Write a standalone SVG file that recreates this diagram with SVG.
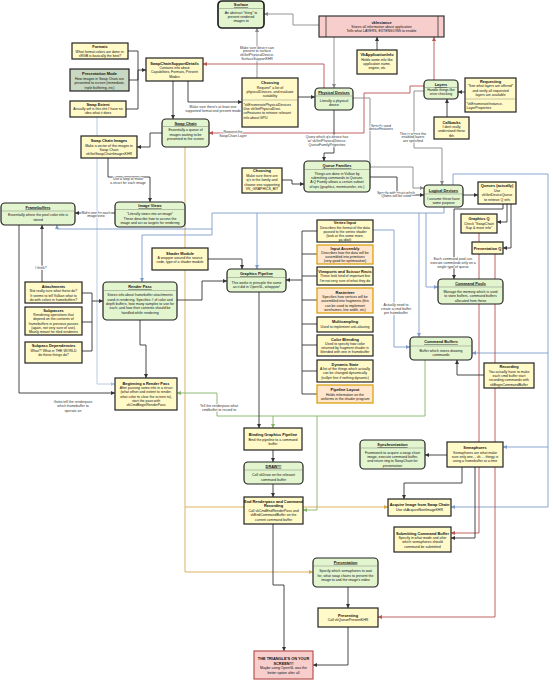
<svg xmlns="http://www.w3.org/2000/svg" width="553" height="680" viewBox="0 0 553 680">
<style>
text{font-family:"Liberation Sans",Arial,sans-serif;fill:#111;text-anchor:middle}
.t{font-size:3.9px;font-weight:bold}
.u{text-decoration:underline}
.b{font-size:3.5px}
.la{text-anchor:start}
.lb{font-size:3.5px;fill:#333;paint-order:stroke;stroke:#fff;stroke-width:1.4px;stroke-linejoin:round}
.y{fill:#fffac8;stroke:#222;stroke-width:1.2}
.g{fill:#e3f5cf;stroke:#222;stroke-width:1.2}
.o{fill:#ffe6cc;stroke:#d79b00;stroke-width:1.2}
.p{fill:#f8cecc;stroke:#333;stroke-width:1.2}
.gm{fill:#c8d8c2;stroke:#222;stroke-width:1.2}
.dv{stroke:#666;stroke-width:0.4}
.c{fill:none;stroke:#333;stroke-width:0.9;stroke-linejoin:round}
.cg{fill:none;stroke:#888;stroke-width:0.9}
.cb{fill:none;stroke:#7c9cc8;stroke-width:0.9}
.cr{fill:none;stroke:#b85450;stroke-width:0.9}
.cgr{fill:none;stroke:#82b366;stroke-width:0.9}
.co{fill:none;stroke:#d9a94a;stroke-width:0.9}
.clb{fill:none;stroke:#b3c4dd;stroke-width:0.9}
</style>
<defs>
<marker id="ad" viewBox="0 0 10 10" refX="10" refY="5" markerWidth="4" markerHeight="4" markerUnits="userSpaceOnUse" orient="auto"><path d="M0,0 L10,5 L0,10 z" fill="#333"/></marker>
<marker id="ag" viewBox="0 0 10 10" refX="10" refY="5" markerWidth="4" markerHeight="4" markerUnits="userSpaceOnUse" orient="auto"><path d="M0,0 L10,5 L0,10 z" fill="#888"/></marker>
<marker id="ab" viewBox="0 0 10 10" refX="10" refY="5" markerWidth="4" markerHeight="4" markerUnits="userSpaceOnUse" orient="auto"><path d="M0,0 L10,5 L0,10 z" fill="#7c9cc8"/></marker>
<marker id="ar" viewBox="0 0 10 10" refX="10" refY="5" markerWidth="4" markerHeight="4" markerUnits="userSpaceOnUse" orient="auto"><path d="M0,0 L10,5 L0,10 z" fill="#b85450"/></marker>
<marker id="agr" viewBox="0 0 10 10" refX="10" refY="5" markerWidth="4" markerHeight="4" markerUnits="userSpaceOnUse" orient="auto"><path d="M0,0 L10,5 L0,10 z" fill="#82b366"/></marker>
<marker id="ao" viewBox="0 0 10 10" refX="10" refY="5" markerWidth="4" markerHeight="4" markerUnits="userSpaceOnUse" orient="auto"><path d="M0,0 L10,5 L0,10 z" fill="#d9a94a"/></marker>
<marker id="alb" viewBox="0 0 10 10" refX="10" refY="5" markerWidth="4" markerHeight="4" markerUnits="userSpaceOnUse" orient="auto"><path d="M0,0 L10,5 L0,10 z" fill="#b3c4dd"/></marker>
</defs>
<rect width="553" height="680" fill="#fff"/>

<g id="connectors">
<path class="co" d="M185,147 V572 H313" marker-end="url(#ao)"/>
<path class="co" d="M185,507 H388" marker-end="url(#ao)"/>
<path class="clb" d="M97,117 V384 H115" marker-end="url(#alb)"/>
<path class="cb" d="M444,207 V213 H212 V235 H142 V282" marker-end="url(#ab)"/>
<path class="cb" d="M212,229 H57 V225" marker-end="url(#ab)"/>
<path class="cb" d="M257,213 V269" marker-end="url(#ab)"/>
<path class="cb" d="M426,213 V287 H438" marker-end="url(#ab)"/>
<path class="cb" d="M419,213 V337" marker-end="url(#ab)"/>
<path class="cb" d="M317,230 H394 V347 H410" marker-end="url(#ab)"/>
<path class="cb" d="M453,185 V174 H548 V507 H451" marker-end="url(#ab)"/>
<path class="cb" d="M548,353 H472" marker-end="url(#ab)"/>
<path class="cb" d="M548,447 H503" marker-end="url(#ab)"/>
<path class="cgr" d="M425,360 V416 H217 V393 H177" marker-end="url(#agr)"/>
<path class="cgr" d="M273,416 V428" marker-end="url(#agr)"/>
<path class="cgr" d="M317,416 V510 H303" marker-end="url(#agr)"/>
<path class="cr" d="M479,233 V533 H451" marker-end="url(#ar)"/>
<path class="cr" d="M495,254 V617 H378" marker-end="url(#ar)"/>
<path class="cr" d="M434,80 V37" marker-end="url(#ar)"/>
<path class="cr" d="M324,88 V64 H203" marker-end="url(#ar)"/>
<path class="cr" d="M424,86 H410 V93 H364 V133 H209" marker-end="url(#ar)"/>
<path class="cg" d="M319,25 H293 V14 H264" marker-end="url(#ag)"/>
<path class="cg" d="M257,78 V28" marker-end="url(#ag)"/>
<path class="cg" d="M334,37 V88" marker-end="url(#ag)"/>
<path class="c" d="M377,50 V37" marker-end="url(#ad)"/>
<path class="c" d="M465,92 H458" marker-end="url(#ad)"/>
<path class="c" d="M447,117 V99" marker-end="url(#ad)"/>
<path class="c" d="M128,51 H138 V70 H146" marker-end="url(#ad)"/>
<path class="c" d="M129,80 H138 V70"/>
<path class="c" d="M126,109 H138 V70"/>
<path class="c" d="M173,81 V119" marker-end="url(#ad)"/>
<path class="c" d="M188,81 V102 H242" marker-end="url(#ad)"/>
<path class="c" d="M298,97 H315" marker-end="url(#ad)"/>
<path class="cg" d="M353,98 H370 V167 H413 V188 H424" marker-end="url(#ag)"/>
<path class="cg" d="M424,91 H414 V148 H442 V185" marker-end="url(#ag)"/>
<path class="c" d="M334,110 V153 H324 V161" marker-end="url(#ad)"/>
<path class="c" d="M282,180 H292 V184 H304" marker-end="url(#ad)"/>
<path class="c" d="M370,177 H397 V195 H424" marker-end="url(#ad)"/>
<path class="c" d="M463,195 H478" marker-end="url(#ad)"/>
<path class="c" d="M507,204 V222 H497" marker-end="url(#ad)"/>
<path class="c" d="M511,204 V248 H503" marker-end="url(#ad)"/>
<path class="c" d="M503,204 V209 H454 V279" marker-end="url(#ad)"/>
<path class="c" d="M484,375 H457 V360" marker-end="url(#ad)"/>
<path class="c" d="M447,455 H425" marker-end="url(#ad)"/>
<path class="c" d="M462,467 V483 H404 V499" marker-end="url(#ad)"/>
<path class="c" d="M475,467 V538 H451" marker-end="url(#ad)"/>
<path class="c" d="M162,133 H150 V147 H137" marker-end="url(#ad)"/>
<path class="c" d="M108,158 V177 H150 V202" marker-end="url(#ad)"/>
<path class="c" d="M115,213 H75" marker-end="url(#ad)"/>
<path class="c" d="M42,282 V225" marker-end="url(#ad)"/>
<path class="c" d="M82,293 H92 V301 H103" marker-end="url(#ad)"/>
<path class="c" d="M82,322 H92 V301"/>
<path class="c" d="M82,351 H92 V322"/>
<path class="c" d="M19,225 V393 H115" marker-end="url(#ad)"/>
<path class="c" d="M140,320 V345 H146 V378" marker-end="url(#ad)"/>
<path class="c" d="M177,300 H202 V281 H227" marker-end="url(#ad)"/>
<path class="c" d="M208,259 H242 V269" marker-end="url(#ad)"/>
<path class="c" d="M302,231 V394 M317,231 H302 M317,254 H302 M317,276 H302 M317,300 H302 M317,324 H302 M317,345 H302 M317,371 H302 M317,394 H302"/>
<path class="c" d="M302,280 H286" marker-end="url(#ad)"/>
<path class="c" d="M259,292 V428" marker-end="url(#ad)"/>
<path class="c" d="M273,450 V462" marker-end="url(#ad)"/>
<path class="c" d="M273,484 V497" marker-end="url(#ad)"/>
<path class="c" d="M273,524 V585 H284 V651" marker-end="url(#ad)"/>
<path class="c" d="M348,587 V608" marker-end="url(#ad)"/>
<path class="c" d="M348,627 V665 H313" marker-end="url(#ad)"/>
<text class="lb" x="257" y="48.6">Make sure device can</text>
<text class="lb" x="257" y="52.4">present to surface</text>
<text class="lb" x="257" y="56.2">vkGetPhysicalDevice-</text>
<text class="lb" x="257" y="60">SurfaceSupportKHR</text>
<text class="lb" x="213" y="108">Make sure there's at least one</text>
<text class="lb" x="213" y="112">supported format and present mode</text>
<text class="lb" x="233" y="133">Request the</text>
<text class="lb" x="233" y="137">SwapChain Layer</text>
<text class="lb" x="327" y="138">Query which q's device has</text>
<text class="lb" x="327" y="142">w/ vkGetPhysicalDevice-</text>
<text class="lb" x="327" y="146">QueueFamilyProperties</text>
<text class="lb" x="381" y="126.6">Specify used</text>
<text class="lb" x="381" y="130">deviceFeatures</text>
<text class="lb" x="413" y="134.6">This is where the</text>
<text class="lb" x="413" y="138">enabled layers</text>
<text class="lb" x="413" y="142">are specified</text>
<text class="lb" x="128" y="179.6">Use a loop to make</text>
<text class="lb" x="128" y="183.6">a struct for each image</text>
<text class="lb" x="96" y="213.6">Make one for each</text>
<text class="lb" x="96" y="217.3">image/view</text>
<text class="lb" x="41" y="269.3">I think?</text>
<text class="lb" x="73" y="403">Gotta tell the renderpass</text>
<text class="lb" x="73" y="407.3">which framebuffer to</text>
<text class="lb" x="73" y="411.6">operate on</text>
<text class="lb" x="396" y="193.6">Specify with struct which</text>
<text class="lb" x="396" y="197.3">Qfams will be used</text>
<text class="lb" x="453" y="259.6">Each command pool can</text>
<text class="lb" x="453" y="263.6">execute commands only on a</text>
<text class="lb" x="453" y="267.6">single type of queue</text>
<text class="lb" x="396" y="305.6">Actually need to</text>
<text class="lb" x="396" y="309.6">create a cmd buffer</text>
<text class="lb" x="396" y="313.6">per framebuffer</text>
<text class="lb" x="219" y="407">Tell the renderpass what</text>
<text class="lb" x="219" y="411.3">cmdbuffer to record to</text>
</g>

<g id="surface"><rect class="g" x="218" y="1" width="46" height="27" rx="4" style="stroke-width:1.7"/><line class="dv" x1="218" y1="8.5" x2="264" y2="8.5"/><text class="t u" x="241" y="6">Surface</text><text class="b" x="241" y="14">An abstract "thing" to</text><text class="b" x="241" y="18">present rendered</text><text class="b" x="241" y="22">images to</text></g>

<g id="vkinstance"><rect class="p" x="319" y="16" width="125" height="21"/><line x1="326" y1="16" x2="326" y2="37" stroke="#333" stroke-width="0.8"/><line x1="438" y1="16" x2="438" y2="37" stroke="#333" stroke-width="0.8"/><text class="t" x="381.5" y="24">vkInstance</text><text class="b" x="381.5" y="28">Stores all information about application</text><text class="b" x="381.5" y="32">Tells what LAYERS, EXTENSIONS to enable</text></g>

<g id="appinfo"><rect class="y" x="357" y="50" width="40" height="24"/><text class="t" x="377" y="55.6">VkApplicationInfo</text><text class="b" x="377" y="60.5">Holds some info like</text><text class="b" x="377" y="64.8">application name,</text><text class="b" x="377" y="69.1">engine, etc</text></g>

<g id="formats"><rect class="y" x="72" y="43" width="56" height="16"/><text class="t" x="100" y="48">Formats</text><text class="b" x="100" y="52.6">What format colors are done in:</text><text class="b" x="100" y="57">sRGB is basically the best?</text></g>

<g id="presmode"><rect class="gm" x="70" y="69" width="59" height="22"/><text class="t" x="99.5" y="75.3">Presentation Mode</text><text class="b" x="99.5" y="80">How images in Swap Chain are</text><text class="b" x="99.5" y="84.3">presented to screen (immediate,</text><text class="b" x="99.5" y="88.6">triple buffering, etc)</text></g>

<g id="swapextent"><rect class="y" x="70" y="101" width="56" height="16"/><text class="t" x="98" y="105.6">Swap Extent</text><text class="b" x="98" y="110">Actually wtf is this shit I have no</text><text class="b" x="98" y="114">idea what it does</text></g>

<g id="scsd"><rect class="y" x="146" y="58" width="57" height="23"/><text class="t" x="174.5" y="64.6">SwapChainSupportDetails</text><text class="b" x="174.5" y="69">Contains info about</text><text class="b" x="174.5" y="73.3">Capabilities, Formats, Present</text><text class="b" x="174.5" y="77.6">Modes</text></g>

<g id="swapchain"><rect class="g" x="162" y="119" width="47" height="28" rx="4"/><line class="dv" x1="162" y1="126.5" x2="209" y2="126.5"/><text class="t u" x="185.5" y="124.6">Swap Chain</text><text class="b" x="185.5" y="131">Essentially a queue of</text><text class="b" x="185.5" y="135.6">images waiting to be</text><text class="b" x="185.5" y="140.2">presented to the screen</text></g>

<g id="swapchainimages"><rect class="y" x="81" y="136" width="56" height="22"/><text class="t" x="109" y="142.3">Swap Chain Images</text><text class="b" x="109" y="146.6">Make a vector of the images in</text><text class="b" x="109" y="151">Swap Chain</text><text class="b" x="109" y="155.3">vkGetSwapChainImagesKHR</text></g>

<g id="choosing1"><rect class="y" x="242" y="78" width="56" height="49"/><text class="t" x="270" y="84">Choosing</text><text class="b" x="270" y="88.6">Request* a list of</text><text class="b" x="270" y="93">physicalDevices, and evaluate</text><text class="b" x="270" y="97.3">suitability</text><line class="dv" x1="242" y1="100" x2="298" y2="100"/><text class="b la" x="243.5" y="105.6">*vkEnumeratePhysicalDevices</text><text class="b la" x="243.5" y="110">Use vkGetPhysicalDevi-</text><text class="b la" x="243.5" y="114.3">ceFeatures to retrieve relevant</text><text class="b la" x="243.5" y="118.6">info about GPU</text></g>

<g id="physdev"><rect class="g" x="315" y="88" width="38" height="22" rx="4"/><line class="dv" x1="315" y1="96" x2="353" y2="96"/><text class="t u" x="334" y="93.6">Physical Devices</text><text class="b" x="334" y="101.6">Literally a physical</text><text class="b" x="334" y="106">device</text></g>

<g id="layers"><rect class="g" x="424" y="80" width="34" height="19" rx="4"/><line class="dv" x1="424" y1="87.5" x2="458" y2="87.5"/><text class="t u" x="441" y="86">Layers</text><text class="b" x="441" y="91">Handle things like</text><text class="b" x="441" y="95.3">error checking</text></g>

<g id="requesting"><rect class="y" x="465" y="78" width="51" height="34"/><text class="t" x="490.5" y="83">Requesting</text><text class="b" x="490.5" y="87.3">"See what layers are offered*</text><text class="b" x="490.5" y="91.6">and verify all requested</text><text class="b" x="490.5" y="96">layers are available</text><line class="dv" x1="465" y1="99" x2="516" y2="99"/><text class="b la" x="466.5" y="104.6">*vkEnumerateInstance-</text><text class="b la" x="466.5" y="108.6">LayerProperties</text></g>

<g id="callbacks"><rect class="y" x="434" y="117" width="35" height="22"/><text class="t" x="451.5" y="123.6">Callbacks</text><text class="b" x="451.5" y="128">I dont really</text><text class="b" x="451.5" y="132.3">understand these</text><text class="b" x="451.5" y="136.6">tbh</text></g>

<g id="choosing2"><rect class="y" x="242" y="168" width="40" height="25"/><text class="t" x="262" y="172.3">Choosing</text><text class="b" x="262" y="177">Make sure there are</text><text class="b" x="262" y="181.3">q's in the family and</text><text class="b" x="262" y="185.6">choose one supporting</text><text class="b" x="262" y="190">VK_GRAPHICS_BIT</text></g>

<g id="queuefam"><rect class="g" x="304" y="161" width="66" height="31" rx="4"/><line class="dv" x1="304" y1="169.5" x2="370" y2="169.5"/><text class="t u" x="337" y="167">Queue Families</text><text class="b" x="337" y="174.6">Things are done in Vulkan by</text><text class="b" x="337" y="179">submitting commands to Queues.</text><text class="b" x="337" y="183.3">A Q Family allows a certain subset</text><text class="b" x="337" y="187.6">of ops (graphics, memtransfer, etc.)</text></g>

<g id="logdev"><rect class="g" x="424" y="185" width="39" height="22" rx="4"/><line class="dv" x1="424" y1="194" x2="463" y2="194"/><text class="t u" x="443.5" y="191.6">Logical Devices</text><text class="b" x="443.5" y="199.6">I assume these have</text><text class="b" x="443.5" y="203.6">some purpose</text></g>

<g id="queues"><rect class="y" x="478" y="182" width="38" height="22"/><text class="t" x="497" y="187.3">Queues (actually)</text><text class="b" x="497" y="192">Use</text><text class="b" x="497" y="196.4">vkGetDeviceQueue</text><text class="b" x="497" y="200.8">to retrieve Q refs</text></g>

<g id="graphicsq"><rect class="y" x="461" y="214" width="36" height="19"/><text class="t" x="479" y="220.3">Graphics Q</text><text class="b" x="479" y="225">Check "SwapChain</text><text class="b" x="479" y="229.3">Sup &amp; more info"</text></g>

<g id="presq"><rect class="y" x="472" y="242" width="31" height="12"/><text class="t" x="487.5" y="249.6">Presentation Q</text></g>

<g id="cmdpools"><rect class="g" x="438" y="279" width="65" height="25" rx="4"/><line class="dv" x1="438" y1="287" x2="503" y2="287"/><text class="t u" x="470.5" y="284.6">Command Pools</text><text class="b" x="470.5" y="293">Manage the memory which is used</text><text class="b" x="470.5" y="297.3">to store buffers- command buffers</text><text class="b" x="470.5" y="301.6">allocated from these</text></g>

<g id="cmdbuffers"><rect class="g" x="410" y="337" width="62" height="23" rx="4"/><line class="dv" x1="410" y1="346" x2="472" y2="346"/><text class="t u" x="441" y="343.3">Command Buffers</text><text class="b" x="441" y="351.6">Buffer which stores drawing</text><text class="b" x="441" y="356">commands</text></g>

<g id="recording"><rect class="y" x="484" y="363" width="50" height="25"/><text class="t" x="509" y="368">Recording</text><text class="b" x="509" y="372.6">You actually have to make</text><text class="b" x="509" y="377">each cmd buffer start</text><text class="b" x="509" y="381.3">recording commands with</text><text class="b" x="509" y="385.6">vkBeginCommandBuffer</text></g>

<g id="framebuffers"><rect class="g" x="1" y="203" width="74" height="22" rx="4"/><line class="dv" x1="1" y1="211" x2="75" y2="211"/><text class="t u" x="38" y="208.6">Framebuffers</text><text class="b" x="38" y="216.3">Essentially where the pixel color info is</text><text class="b" x="38" y="220.6">stored</text></g>

<g id="imageviews"><rect class="g" x="115" y="202" width="70" height="25" rx="4"/><line class="dv" x1="115" y1="209.5" x2="185" y2="209.5"/><text class="t u" x="150" y="207.3">Image Views</text><text class="b" x="150" y="215">"Literally views into an image"</text><text class="b" x="150" y="219.5">These describe how to access the</text><text class="b" x="150" y="224">image and act as targets for rendering</text></g>

<g id="shadermodule"><rect class="y" x="152" y="248" width="56" height="22"/><text class="t" x="180" y="254.6">Shader Module</text><text class="b" x="180" y="259">A wrapper around the source</text><text class="b" x="180" y="263.4">code, type of a shader module</text></g>

<g id="attachments"><rect class="y" x="25" y="282" width="57" height="21"/><text class="t" x="53.5" y="288">Attachments</text><text class="b" x="53.5" y="292.3">Not really sure what these do?</text><text class="b" x="53.5" y="296.6">It seems to tell Vulkan what to</text><text class="b" x="53.5" y="301">do with colors in framebuffers?</text></g>

<g id="subpasses"><rect class="y" x="25" y="307" width="57" height="28"/><text class="t" x="53.5" y="311.6">Subpasses</text><text class="b" x="53.5" y="316">Rendering operations that</text><text class="b" x="53.5" y="320.3">depend on the contents of</text><text class="b" x="53.5" y="324.6">framebuffers in previous passes</text><text class="b" x="53.5" y="329">(again, not very sure of use).</text><text class="b" x="53.5" y="333.3">Mainly meant for tiled renderers</text></g>

<g id="subpassdeps"><rect class="y" x="25" y="342" width="57" height="21"/><text class="t" x="53.5" y="347.3">Subpass Dependencies</text><text class="b" x="53.5" y="351.6">What?! What in THE WORLD</text><text class="b" x="53.5" y="356">do these things do?</text></g>

<g id="renderpass"><rect class="g" x="103" y="282" width="74" height="38" rx="4"/><line class="dv" x1="103" y1="290.5" x2="177" y2="290.5"/><text class="t u" x="140" y="288">Render Pass</text><text class="b" x="140" y="296.3">Stores info about framebuffer attachments</text><text class="b" x="140" y="300.6">used in rendering. Specifies # of color and</text><text class="b" x="140" y="305">depth buffers, how many samples to use for</text><text class="b" x="140" y="309.3">each, and how their contents should be</text><text class="b" x="140" y="313.6">handled while rendering</text></g>

<g id="beginrp"><rect class="y" x="115" y="378" width="62" height="32"/><text class="t" x="146" y="384.6">Beginning a Render Pass</text><text class="b" x="146" y="389">After passing some info in a struct</text><text class="b" x="146" y="393.3">(what offset and extent to render,</text><text class="b" x="146" y="397.6">what color to clear the screen to),</text><text class="b" x="146" y="402">start the pass with</text><text class="b" x="146" y="406.3">vkCmdBeginRenderPass</text></g>

<g id="gpipeline"><rect class="g" x="227" y="269" width="59" height="23" rx="4"/><line class="dv" x1="227" y1="277.5" x2="286" y2="277.5"/><text class="t u" x="256.5" y="275.3">Graphics Pipeline</text><text class="b" x="256.5" y="283.6">This works in principle the same</text><text class="b" x="256.5" y="288">as it did in OpenGL, whoppee!</text></g>

<g id="vertexinput"><rect class="y" x="317" y="220" width="56" height="22"/><text class="t" x="345" y="224.3">Vertex Input</text><text class="b" x="345" y="228.5">Describes the format of the data</text><text class="b" x="345" y="232.7">passed to the vertex shader</text><text class="b" x="345" y="236.9">(look at this some more,</text><text class="b" x="345" y="241.1">ya idiot)</text></g>

<g id="inputassembly"><rect class="o" x="317" y="245" width="56" height="19"/><text class="t" x="345" y="249.6">Input Assembly</text><text class="b" x="345" y="253.6">Describes how the data will be</text><text class="b" x="345" y="257.8">assembled into primitives</text><text class="b" x="345" y="262">(very good for optimization)</text></g>

<g id="viewports"><rect class="y" x="317" y="267" width="56" height="18"/><text class="t" x="345" y="273">Viewports and Scissor Rects</text><text class="b" x="345" y="277.3">These look kind of important but</text><text class="b" x="345" y="281.6">I'm not very sure of what they do</text></g>

<g id="rasterizer"><rect class="o" x="317" y="288" width="56" height="25"/><text class="t" x="345" y="293.6">Rasterizer</text><text class="b" x="345" y="298">Specifies how vertices will be</text><text class="b" x="345" y="302.4">assembled into fragments (this</text><text class="b" x="345" y="306.8">can be used to implement</text><text class="b" x="345" y="311.2">wireframes, line width, etc)</text></g>

<g id="multisampling"><rect class="y" x="317" y="317" width="56" height="15"/><text class="t" x="345" y="323.3">Multisampling</text><text class="b" x="345" y="327.8">Used to implement anti-aliasing</text></g>

<g id="colorblending"><rect class="y" x="317" y="335" width="56" height="21"/><text class="t" x="345" y="340.6">Color Blending</text><text class="b" x="345" y="344.8">Used to specify how color</text><text class="b" x="345" y="349">returned by fragment shader is</text><text class="b" x="345" y="353.3">blended with one in framebuffer</text></g>

<g id="dynamicstate"><rect class="y" x="317" y="360" width="56" height="22"/><text class="t" x="345" y="365.6">Dynamic State</text><text class="b" x="345" y="370">A list of the things which actually</text><text class="b" x="345" y="374.3">can be changed dynamically</text><text class="b" x="345" y="378.6">(nullptr fine if nothing dynamic)</text></g>

<g id="pipelinelayout"><rect class="o" x="317" y="385" width="56" height="18"/><text class="t" x="345" y="391.3">Pipeline Layout</text><text class="b" x="345" y="395.6">Holds information on the</text><text class="b" x="345" y="400">uniforms in the shader program</text></g>

<g id="binding"><rect class="y" x="244" y="428" width="58" height="22"/><text class="t" x="273" y="436.3">Binding Graphics Pipeline</text><text class="b" x="273" y="440.6">Bind the pipeline to a command</text><text class="b" x="273" y="445">buffer</text></g>

<g id="draw"><rect class="g" x="244" y="462" width="59" height="22" rx="4"/><line class="dv" x1="244" y1="470" x2="303" y2="470"/><text class="t u" x="273.5" y="467.6">DRAW!!!</text><text class="b" x="273.5" y="476.3">Call vkDraw on the relevant</text><text class="b" x="273.5" y="480.6">command buffer</text></g>

<g id="endrp"><rect class="y" x="244" y="497" width="59" height="27"/><text class="t" x="273.5" y="503">End Renderpass and Command</text><text class="t" x="273.5" y="507.3">Recording</text><text class="b" x="273.5" y="512">Call vkCmdEndRenderPass and</text><text class="b" x="273.5" y="516.3">vkEndCommandBuffer on the</text><text class="b" x="273.5" y="520.6">current command buffer</text></g>

<g id="sync"><rect class="g" x="360" y="440" width="65" height="29" rx="4"/><line class="dv" x1="360" y1="448" x2="425" y2="448"/><text class="t u" x="392.5" y="446">Synchronization</text><text class="b" x="392.5" y="454">Framework to acquire a swap chain</text><text class="b" x="392.5" y="458.2">image, execute command buffer,</text><text class="b" x="392.5" y="462.4">and return img to SwapChain for</text><text class="b" x="392.5" y="466.6">presentation</text></g>

<g id="semaphores"><rect class="y" x="447" y="442" width="56" height="25"/><text class="t" x="475" y="449.3">Semaphores</text><text class="b" x="475" y="453.6">Semaphores are what make</text><text class="b" x="475" y="458">sure only one... uh.... thingy is</text><text class="b" x="475" y="462.3">using a framebuffer at a time</text></g>

<g id="acquire"><rect class="y" x="388" y="499" width="63" height="17"/><text class="t" x="419.5" y="506.3">Acquire Image from Swap Chain</text><text class="b" x="419.5" y="510.6">Use vkAcquireNextImageKHR</text></g>

<g id="submitting"><rect class="y" x="394" y="527" width="57" height="25"/><text class="t" x="422.5" y="534.6">Submitting Command Buffer</text><text class="b" x="422.5" y="539">Specify in what mode and after</text><text class="b" x="422.5" y="543.3">which semaphores should</text><text class="b" x="422.5" y="547.6">command be submitted</text></g>

<g id="presentation"><rect class="g" x="313" y="558" width="65" height="29" rx="4"/><line class="dv" x1="313" y1="566" x2="378" y2="566"/><text class="t u" x="345.5" y="563.6">Presentation</text><text class="b" x="345.5" y="572.3">Specify which semaphores to wait</text><text class="b" x="345.5" y="576.6">for, what swap chains to present the</text><text class="b" x="345.5" y="581">image to and the image's index</text></g>

<g id="presenting"><rect class="y" x="318" y="608" width="60" height="19"/><text class="t" x="348" y="616.6">Presenting</text><text class="b" x="348" y="620.8">Call vkQueuePresentKHR</text></g>

<g id="triangle"><rect class="p" x="254" y="651" width="59" height="28" style="stroke:#b85450"/><text class="t" x="283.5" y="660.3">THE TRIANGLE'S ON YOUR</text><text class="t" x="283.5" y="664.6">SCREEN!!!</text><text class="b" x="283.5" y="669.3">Maybe using OpenGL was the</text><text class="b" x="283.5" y="673.6">better option after all</text></g>
</svg>
